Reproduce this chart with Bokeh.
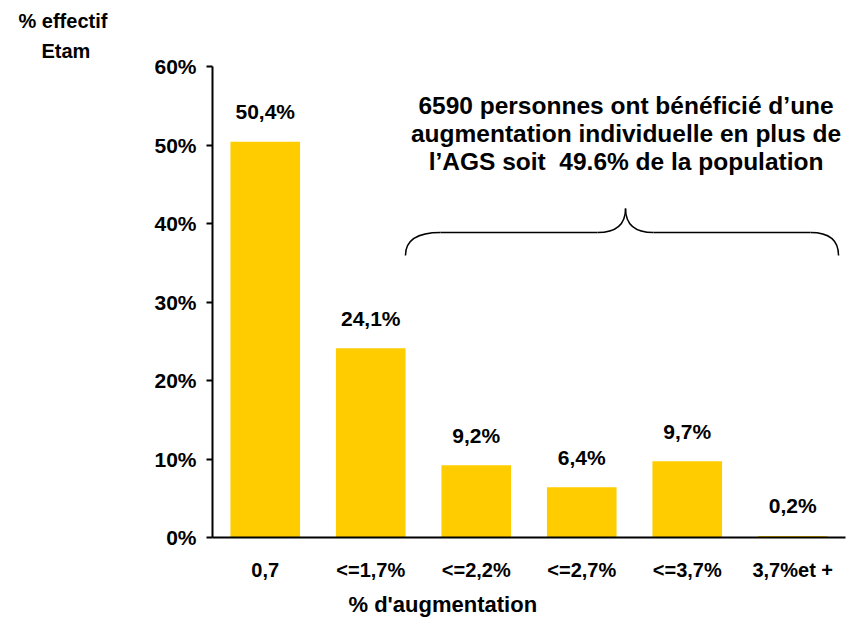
import numpy as np
from bokeh.plotting import figure
from bokeh.models import Range1d, FixedTicker, Label, ColumnDataSource, Title
from bokeh.core.properties import value
from bokeh.embed import file_html
from bokeh.resources import INLINE

categories = ["0,7", "<=1,7%", "<=2,2%", "<=2,7%", "<=3,7%", "3,7%et +"]
values = [50.4, 24.1, 9.2, 6.4, 9.7, 0.2]
value_labels = ["50,4%", "24,1%", "9,2%", "6,4%", "9,7%", "0,2%"]
y_ticks = [0, 10, 20, 30, 40, 50, 60]
y_tick_labels = ["0%", "10%", "20%", "30%", "40%", "50%", "60%"]
annotation_lines = ["6590 personnes ont bénéficié d\u2019une",
                    "augmentation individuelle en plus de",
                    "l\u2019AGS soit \u00a049.6% de la population"]
x_title = "% d'augmentation"
y_title_lines = ["% effectif", "Etam"]

FONT = "Liberation Sans"
BAR = "#FFCC00"

x = np.arange(len(categories)) + 0.5
src = ColumnDataSource(dict(x=x, top=values, lab=value_labels))

p = figure(width=846, height=622, output_backend="svg", toolbar_location=None,
           x_range=Range1d(0, 6), y_range=Range1d(0, 60),
           min_border_left=212, min_border_right=1, min_border_top=66,
           min_border_bottom=85)
p.title.visible = False
p.outline_line_color = None
p.grid.visible = False
p.background_fill_color = "white"
p.border_fill_color = "white"

p.vbar(x="x", top="top", width=0.66, source=src, fill_color=BAR, line_color=None)
p.text(x="x", y="top", text="lab", source=src, text_align="center",
       text_baseline="middle", y_offset=-30, text_font=value(FONT),
       text_font_style="bold", text_font_size="21px", text_color="black")

# x axis
xa = p.xaxis[0]
xa.ticker = FixedTicker(ticks=list(x))
xa.major_label_overrides = {float(v): c for v, c in zip(x, categories)}
xa.major_tick_line_color = None
xa.minor_tick_line_color = None
xa.axis_line_width = 2
xa.axis_line_color = "black"
xa.major_label_text_font = FONT
xa.major_label_text_font_style = "bold"
xa.major_label_text_font_size = "20px"
xa.major_label_text_color = "black"
xa.major_label_standoff = 15

# y axis
ya = p.yaxis[0]
ya.ticker = FixedTicker(ticks=y_ticks)
ya.major_label_overrides = {t: l for t, l in zip(y_ticks, y_tick_labels)}
ya.minor_tick_line_color = None
ya.major_tick_in = 0
ya.major_tick_out = 6
ya.major_tick_line_width = 2
ya.axis_line_width = 2
ya.axis_line_color = "black"
ya.major_label_text_font = FONT
ya.major_label_text_font_style = "bold"
ya.major_label_text_font_size = "21px"
ya.major_label_text_color = "black"
ya.major_label_standoff = 10

# brace
bx = [1.829, 2.161, 3.649, 3.915, 4.180, 5.668, 5.934]
by_end, by_mid, by_peak = 35.92, 38.85, 41.91
p.quadratic(x0=[bx[0], bx[2], bx[3], bx[5]], y0=[by_end, by_mid, by_peak, by_mid],
            x1=[bx[1], bx[3], bx[4], bx[6]], y1=[by_mid, by_peak, by_mid, by_end],
            cx=[bx[0], bx[3], bx[3], bx[6]], cy=[by_mid, by_mid, by_mid, by_mid],
            line_color="black", line_width=1.5)
p.segment(x0=[bx[1], bx[4]], y0=[by_mid, by_mid], x1=[bx[2], bx[5]], y1=[by_mid, by_mid],
          line_color="black", line_width=1.5)

for line, yy in zip(annotation_lines, [55.0, 51.45, 47.9]):
    p.add_layout(Label(x=3.92, y=yy, text=line, text_align="center", text_baseline="middle",
                       text_font=FONT, text_font_style="bold", text_font_size="24.5px",
                       text_color="black"))

# y title at top-left, as titles above the frame (nearest first)
for txt, off, so in zip(reversed(y_title_lines), [-171, -194], [10, 2]):
    p.add_layout(Title(text=txt, align="left", offset=off, standoff=so,
                       text_font=FONT, text_font_style="bold", text_font_size="20px",
                       text_color="black"), "above")

# x title below the axis
p.add_layout(Title(text=x_title, align="left", offset=136, standoff=12,
                   text_font=FONT, text_font_style="bold", text_font_size="22px",
                   text_color="black"), "below")

open("out.html", "w").write(file_html(p, INLINE))
